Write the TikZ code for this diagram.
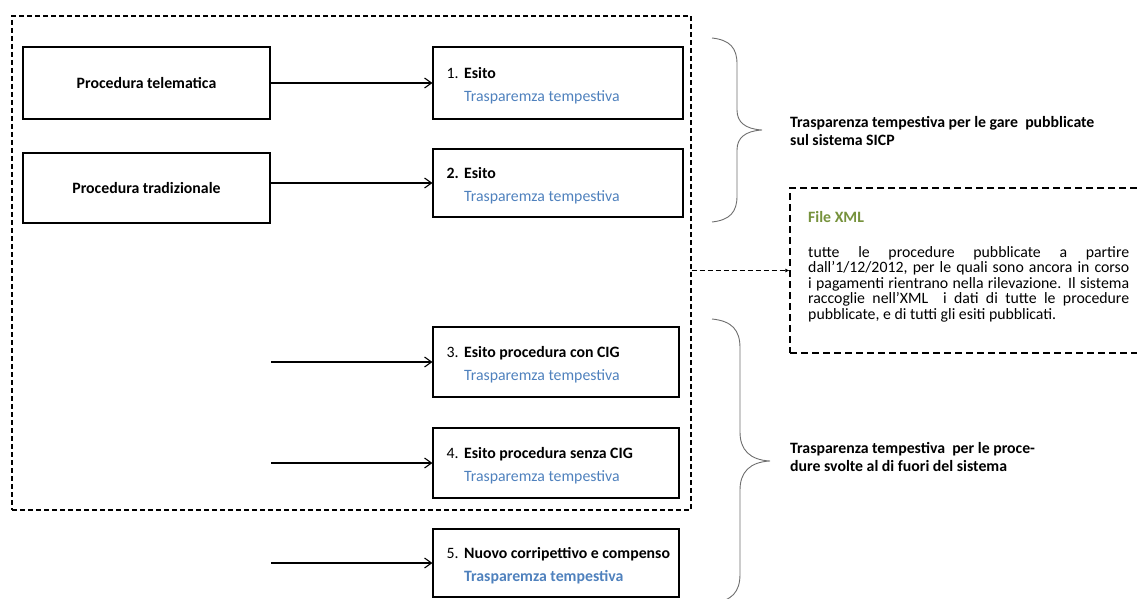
\documentclass[tikz,border=0pt]{standalone}
\usepackage{fontspec}
\setmainfont{Carlito}
\usetikzlibrary{positioning,arrows.meta}

\definecolor{tblue}{RGB}{79,129,189}
\definecolor{tgreen}{RGB}{118,146,60}
\definecolor{bgray}{RGB}{110,110,110}

\tikzset{
  box/.style={draw, line width=1.1pt, inner sep=0pt},
  grpbox/.style={draw, line width=1.3pt, dash pattern=on 5pt off 3pt, inner sep=0pt},
  xmlbox/.style={draw, line width=1.3pt, dash pattern=on 7pt off 4pt, inner sep=0pt},
  arr/.style={line width=1.1pt, -{Straight Barb[length=7pt,width=10pt]}},
  dasharr/.style={line width=1.2pt, dash pattern=on 5pt off 3pt, -{Latex[length=4pt,width=4pt]}},
  brace/.style={draw=bgray, line width=0.9pt},
  item/.style={anchor=west, align=left, inner sep=0pt, font=\fontsize{15.8}{23}\selectfont},
  lab/.style={anchor=west, align=left, inner sep=0pt, font=\bfseries\fontsize{15.8}{18.5}\selectfont},
}

\begin{document}
\begin{tikzpicture}[x=1pt,y=1pt,yscale=-1,xscale=1]
\useasboundingbox (0,0) rectangle (1137,599);

%Shape: Rectangle
\node [grpbox, minimum width=679, minimum height=494] (grp) at (351.5,263) {};

%Shape: Rectangle
\node [box, minimum width=247, minimum height=72, font=\bfseries\fontsize{15.8}{18}\selectfont] (tel) at (146.5,83) {Procedura telematica};
%Shape: Rectangle
\node [box, minimum width=247, minimum height=70, font=\bfseries\fontsize{15.8}{18}\selectfont] (trad) at (146.5,188) {Procedura tradizionale};

%Shape: Rectangle
\node [box, minimum width=250, minimum height=72] (e1) at (558,83) {};
%Shape: Rectangle
\node [box, minimum width=250, minimum height=68] (e2) at (558,183) {};
%Shape: Rectangle
\node [box, minimum width=246, minimum height=70] (e3) at (556,362) {};
%Shape: Rectangle
\node [box, minimum width=246, minimum height=70] (e4) at (556,463) {};
%Shape: Rectangle
\node [box, minimum width=246, minimum height=68] (e5) at (556,563) {};

% Text Node
\node [item] (t1) at ([xshift=14pt,yshift=3pt]e1.west) {\makebox[17.5pt][l]{1.}\textbf{Esito}\\\hspace*{17.5pt}\textcolor{tblue}{Trasparemza tempestiva}};
% Text Node
\node [item] (t2) at ([xshift=14pt,yshift=3pt]e2.west) {\makebox[17.5pt][l]{\textbf{2.}}\textbf{Esito}\\\hspace*{17.5pt}\textcolor{tblue}{Trasparemza tempestiva}};
% Text Node
\node [item] (t3) at ([xshift=14pt,yshift=3pt]e3.west) {\makebox[17.5pt][l]{3.}\textbf{Esito procedura con CIG}\\\hspace*{17.5pt}\textcolor{tblue}{Trasparemza tempestiva}};
% Text Node
\node [item] (t4) at ([xshift=14pt,yshift=3pt]e4.west) {\makebox[17.5pt][l]{4.}\textbf{Esito procedura senza CIG}\\\hspace*{17.5pt}\textcolor{tblue}{Trasparemza tempestiva}};
% Text Node
\node [item] (t5) at ([xshift=14pt,yshift=3pt]e5.west) {\makebox[17.5pt][l]{5.}\textbf{Nuovo corripettivo e compenso}\\\hspace*{17.5pt}\textcolor{tblue}{\textbf{Trasparemza tempestiva}}};

%Straight Lines
\draw [arr] (tel.east) -- (e1.west);
\draw [arr] (trad.east |- e2.west) -- (e2.west);
\coordinate (s3) at (271,362);
\coordinate (s4) at (271,463);
\coordinate (s5) at (271,563);
\draw [arr] (s3) -- (e3.west);
\draw [arr] (s4) -- (e4.west);
\draw [arr] (s5) -- (e5.west);

%Shape: Brace
\draw [brace] (712,38) .. controls (730,40) and (737,48) .. (737,64) -- (737,110) .. controls (737,122) and (745,129) .. (762,130) .. controls (745,131) and (737,138) .. (737,150) -- (737,196) .. controls (737,212) and (730,220) .. (712,222);
%Shape: Brace
\draw [brace] (712,319) .. controls (732,321) and (740,330) .. (740,348) -- (740,432) .. controls (740,450) and (750,460) .. (770,461) .. controls (750,462) and (740,472) .. (740,490) -- (740,574) .. controls (740,592) and (732,601) .. (712,603);

% Text Node
\node [lab] (lab1) at (790,131) {Trasparenza tempestiva per le gare~ pubblicate\\sul sistema SICP};
% Text Node
\node [lab] (lab2) at (790,457) {Trasparenza tempestiva~ per le proce-\\dure svolte al di fuori del sistema};

%Shape: Rectangle
\node [xmlbox, minimum width=355, minimum height=165] (xml) at (967.5,270.5) {};
% Text Node
\node [anchor=west, inner sep=0pt, font=\bfseries\fontsize{15.8}{18}\selectfont, text=tgreen] (xmlt) at (808,217) {File XML};
% Text Node
\node [anchor=north west, inner sep=0pt, align=left, font=\fontsize{15.8}{15.5}\selectfont] (xmlp) at (808,246)
  {\makebox[321pt][s]{tutte le procedure pubblicate a partire}\\
   \makebox[321pt][s]{dall’1/12/2012, per le quali sono ancora in corso}\\
   \makebox[321pt][s]{i pagamenti rientrano nella rilevazione. Il sistema}\\
   \makebox[321pt][s]{raccoglie nell’XML~ i dati di tutte le procedure}\\
   pubblicate, e di tutti gli esiti pubblicati.};

%Straight Lines
\draw [dasharr] (grp.east |- xml.west) -- (xml.west);

\end{tikzpicture}
\end{document}
